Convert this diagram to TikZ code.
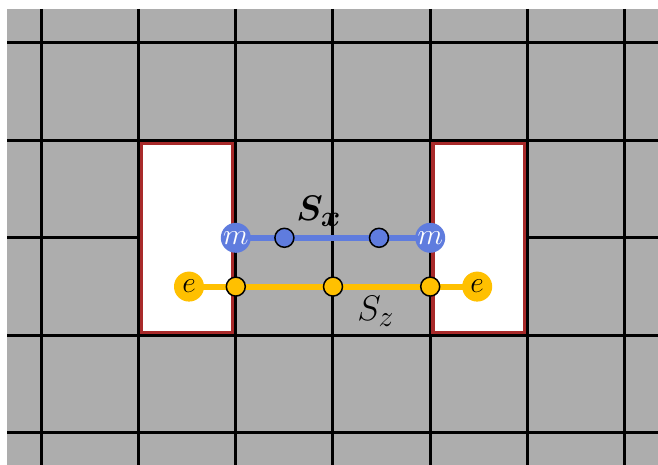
\documentclass[tikz,border=0pt]{standalone}
\usepackage{bm}
\definecolor{gridgray}{RGB}{173,173,173}
\definecolor{holered}{RGB}{168,42,42}
\definecolor{mblue}{RGB}{95,124,222}
\definecolor{eyellow}{RGB}{255,192,0}
\pgfdeclarelayer{bg}
\pgfdeclarelayer{fg}
\pgfsetlayers{bg,main,fg}
\tikzset{
  gridline/.style={line width=2.1pt,black},
  holebox/.style={fill=white,draw=holered,line width=2.2pt},
  bigm/.style={circle,fill=mblue,minimum size=21pt,inner sep=0pt,text=white,font=\huge},
  bige/.style={circle,fill=eyellow,minimum size=21pt,inner sep=0pt,text=black,font=\huge},
  smallb/.style={circle,fill=mblue,draw=black,line width=1.05pt,minimum size=13.3pt,inner sep=0pt},
  smally/.style={circle,fill=eyellow,draw=black,line width=1.05pt,minimum size=13.3pt,inner sep=0pt},
  bline/.style={mblue,line width=4.2pt},
  yline/.style={eyellow,line width=4.2pt},
  lab/.style={font=\Huge,inner sep=0pt,anchor=base west}
}
\begin{document}
\begin{tikzpicture}[x=0.7pt,y=-0.7pt]
\useasboundingbox (0,0) rectangle (658,465);
\begin{pgfonlayer}{bg}
\fill[gridgray] (7,9) rectangle (658,465);
\foreach \k in {0,...,6} \draw[gridline] ({41.3+97.23*\k},9) -- ({41.3+97.23*\k},465);
\foreach \k in {0,...,4} \draw[gridline] (7,{43+97.4*\k}) -- (658,{43+97.4*\k});
\draw[holebox] (141.3,143.4) rectangle (232.8,332.4);
\draw[holebox] (433,143.4) rectangle (524.7,332.4);
\end{pgfonlayer}
\begin{pgfonlayer}{fg}
\node[bigm] (m1) at (235.8,237.8) {$m$};
\node[bigm] (m2) at (430.2,237.8) {$m$};
\node[smallb] (bx1) at (284.4,237.8) {};
\node[smallb] (bx2) at (379,237.8) {};
\node[bige] (e1) at (189,286.6) {$e$};
\node[bige] (e2) at (477.2,286.6) {$e$};
\node[smally] (z1) at (235.8,286.6) {};
\node[smally] (z2) at (333,286.6) {};
\node[smally] (z3) at (430.2,286.6) {};
\node[lab] (sx) at (296,221) {$\bm{S_x}$};
\node[lab] (sz) at (357,321) {$S_z$};
\end{pgfonlayer}
\draw[bline] (m1.center) -- (m2.center);
\draw[yline] (e1.center) -- (e2.center);
\end{tikzpicture}
\end{document}
